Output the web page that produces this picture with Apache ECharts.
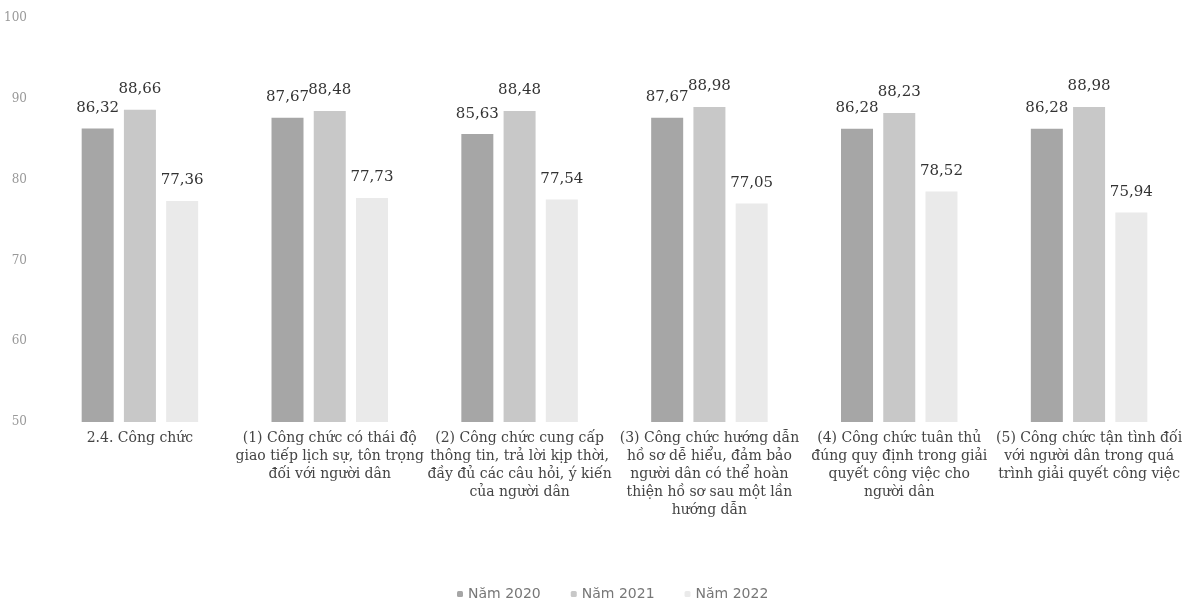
<!DOCTYPE html>
<html>
<head>
<meta charset="utf-8">
<script src="https://cdn.jsdelivr.net/npm/echarts@6/dist/echarts.min.js"></script>
<style>
  html, body {margin: 0; padding: 0; background: #fff;}
  #chart {width: 1192px; height: 610px;}
</style>
</head>
<body>
<div id="chart"></div>
<script>
const categories = [
  '2.4. Công chức',
  '(1) Công chức có thái độ\ngiao tiếp lịch sự, tôn trọng\nđối với người dân',
  '(2) Công chức cung cấp\nthông tin, trả lời kịp thời,\nđầy đủ các câu hỏi, ý kiến\ncủa người dân',
  '(3) Công chức hướng dẫn\nhồ sơ dễ hiểu, đảm bảo\nngười dân có thể hoàn\nthiện hồ sơ sau một lần\nhướng dẫn',
  '(4) Công chức tuân thủ\nđúng quy định trong giải\nquyết công việc cho\nngười dân',
  '(5) Công chức tận tình đối\nvới người dân trong quá\ntrình giải quyết công việc'
];
const seriesNames = ['Năm 2020', 'Năm 2021', 'Năm 2022'];
const nam2020 = [86.32, 87.67, 85.63, 87.67, 86.28, 86.28];
const nam2021 = [88.66, 88.48, 88.48, 88.98, 88.23, 88.98];
const nam2022 = [77.36, 77.73, 77.54, 77.05, 78.52, 75.94];
const yTicks = {min: 50, max: 100, interval: 10};

const colors = ['#a6a6a6', '#c8c8c8', '#eaeaea'];

const chart = echarts.init(document.getElementById('chart'));

const makeSeries = (name, data, i) => ({
  name,
  type: 'bar',
  data,
  barWidth: 32,
  barGap: '32%',
  barCategoryGap: '39%',
  itemStyle: {color: colors[i]},
  label: {
    show: true,
    position: 'top',
    distance: 13,
    fontFamily: 'DejaVu Serif',
    fontSize: 15,
    color: '#333',
    formatter: p => p.value.toFixed(2).replace('.', ',')
  }
});

chart.setOption({
  animation: false,
  grid: {left: 45, right: 8, top: 18, bottom: 188},
  legend: {
    bottom: 4,
    left: 452,
    itemWidth: 6,
    itemHeight: 6,
    itemGap: 30,
    textStyle: {fontFamily: 'DejaVu Sans', fontSize: 14, color: '#777'},
    data: seriesNames
  },
  xAxis: {
    type: 'category',
    data: categories,
    axisLine: {show: false},
    axisTick: {show: false},
    axisLabel: {
      interval: 0,
      margin: 7,
      fontFamily: 'DejaVu Serif',
      fontSize: 14,
      lineHeight: 18,
      color: '#444',
      align: 'center'
    }
  },
  yAxis: {
    type: 'value',
    min: yTicks.min,
    max: yTicks.max,
    interval: yTicks.interval,
    axisLine: {show: false},
    axisTick: {show: false},
    splitLine: {show: false},
    axisLabel: {
      margin: 18,
      fontFamily: 'DejaVu Serif',
      fontSize: 12,
      color: '#999'
    }
  },
  series: [
    makeSeries(seriesNames[0], nam2020, 0),
    makeSeries(seriesNames[1], nam2021, 1),
    makeSeries(seriesNames[2], nam2022, 2)
  ]
});
</script>
</body>
</html>
